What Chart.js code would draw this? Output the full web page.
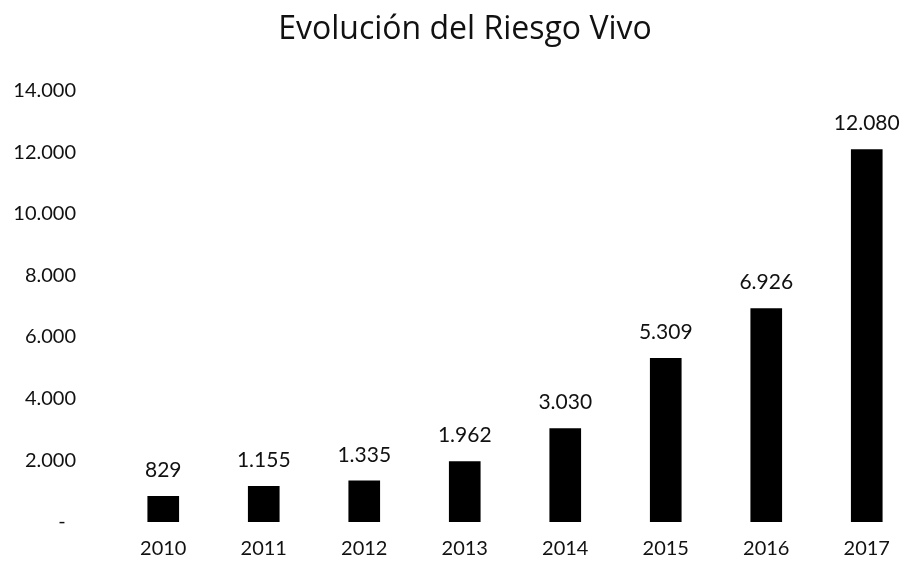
<!DOCTYPE html>
<html>
<head>
<meta charset="utf-8">
<script src="https://cdn.jsdelivr.net/npm/chart.js@4/dist/chart.umd.min.js"></script>
<style>
  html, body { margin: 0; padding: 0; background: #fff; overflow: hidden; width: 906px; height: 562px; }
  canvas { display: block; }
</style>
</head>
<body>
<canvas id="c" width="917" height="562" style="width:917px;height:562px"></canvas>
<script>
// Data
const categories = ['2010', '2011', '2012', '2013', '2014', '2015', '2016', '2017'];
const riesgoVivo = [829, 1155, 1335, 1962, 3030, 5309, 6926, 12080];
const yTickValues = [0, 2000, 4000, 6000, 8000, 10000, 12000, 14000];
const chartTitle = 'Evolución del Riesgo Vivo';

const FONT = 'Lato';

function fmt(v) {
  return String(Math.round(v)).replace(/\B(?=(\d{3})+(?!\d))/g, '.');
}

const barLabels = {
  id: 'barLabels',
  afterDatasetsDraw(chart) {
    const ctx = chart.ctx;
    const meta = chart.getDatasetMeta(0);
    ctx.save();
    ctx.font = '21px ' + FONT;
    ctx.fillStyle = '#111';
    ctx.textAlign = 'center';
    ctx.textBaseline = 'middle';
    meta.data.forEach((bar, i) => {
      ctx.fillText(fmt(riesgoVivo[i]), bar.x, bar.y - 26);
    });
    ctx.restore();
  }
};

new Chart(document.getElementById('c'), {
  type: 'bar',
  data: {
    labels: categories,
    datasets: [{
      data: riesgoVivo,
      backgroundColor: '#000',
      borderWidth: 0,
      barThickness: 31
    }]
  },
  options: {
    responsive: false,
    animation: false,
    devicePixelRatio: 1,
    layout: { padding: { left: 13, right: 0, top: 0, bottom: 0 } },
    plugins: {
      legend: { display: false },
      tooltip: { enabled: false },
      title: {
        display: true,
        text: chartTitle,
        color: '#111',
        font: { family: 'Open Sans', size: 32, weight: 'normal' },
        padding: { top: 11, bottom: 41 }
      }
    },
    scales: {
      x: {
        offset: true,
        grid: { display: false, drawTicks: false },
        border: { display: false },
        afterFit(scale) { scale.height = 40; },
        ticks: {
          color: '#111',
          font: { family: FONT, size: 20 },
          padding: 15,
          maxRotation: 0
        }
      },
      y: {
        min: 0,
        max: 14000,
        grid: { display: false, drawTicks: false },
        border: { display: false },
        afterBuildTicks(scale) {
          scale.ticks = yTickValues.map(v => ({ value: v }));
        },
        afterFit(scale) {
          scale.width = 100;
          scale.paddingTop = 12;
          scale.paddingBottom = 12;
        },
        ticks: {
          color: '#111',
          font: { family: FONT, size: 20 },
          padding: 37,
          callback: v => v === 0 ? '-  ' : fmt(v)
        }
      }
    }
  },
  plugins: [barLabels]
});
</script>
</body>
</html>
